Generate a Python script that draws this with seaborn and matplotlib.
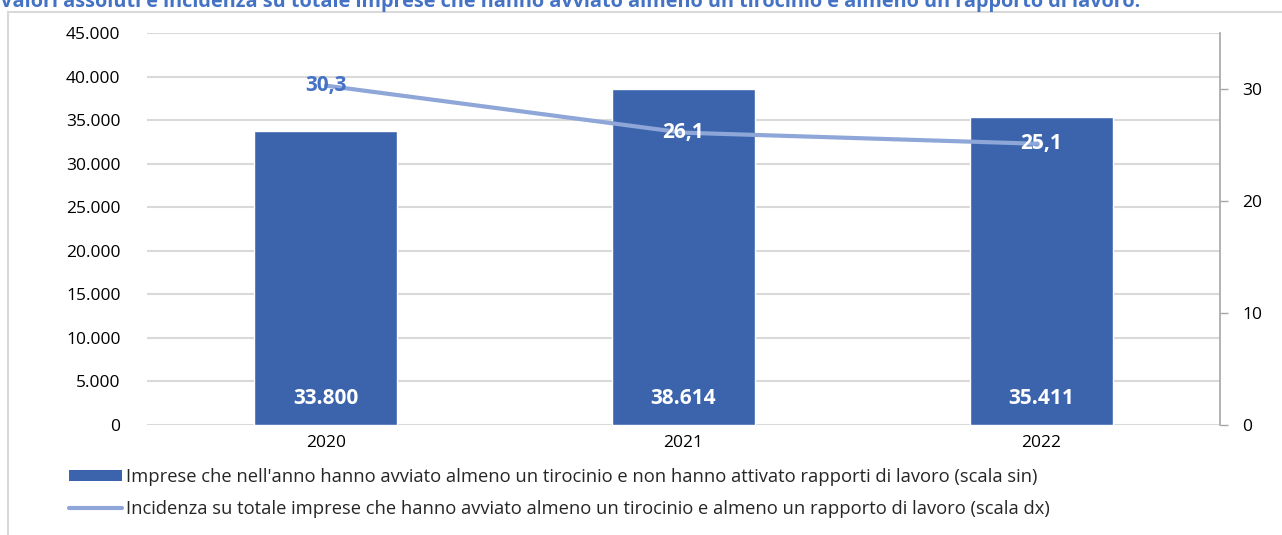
import numpy as np
import pandas as pd
import seaborn as sns
import matplotlib.pyplot as plt
from matplotlib.patches import Patch, Rectangle
from matplotlib.lines import Line2D
from matplotlib.ticker import FuncFormatter

# data
years = ["2020", "2021", "2022"]
imprese = [33800, 38614, 35411]
incidenza = [30.3, 26.1, 25.1]

title = ("Valori assoluti e incidenza su totale imprese che hanno avviato almeno "
         "un tirocinio e almeno un rapporto di lavoro.")
label_bar = ("Imprese che nell'anno hanno avviato almeno un tirocinio e non hanno "
             "attivato rapporti di lavoro (scala sin)")
label_line = ("Incidenza su totale imprese che hanno avviato almeno un tirocinio e "
              "almeno un rapporto di lavoro (scala dx)")

bar_color = "#3B64AD"
line_color = "#8FA6D8"
blue_text = "#4472C4"
grid_color = "#D9D9D9"

df = pd.DataFrame({"anno": years, "imprese": imprese, "incidenza": incidenza})

sns.set_style("white")
plt.rcParams["font.family"] = ["Open Sans", "DejaVu Sans"]

fig = plt.figure(figsize=(12.82, 5.35), dpi=100)
ax = fig.add_axes([147 / 1282, 1 - 425 / 535, (1220 - 147) / 1282, (425 - 33) / 535])

sns.barplot(data=df, x="anno", y="imprese", color=bar_color, width=0.4,
            saturation=1, ax=ax, zorder=2)
ax.set_ylim(0, 45000)
ax.set_yticks(np.arange(0, 45001, 5000))
ax.yaxis.set_major_formatter(FuncFormatter(lambda v, p: f"{int(v):,}".replace(",", ".")))
ax.set_xlim(-0.5, len(years) - 0.5)
ax.grid(axis="y", color=grid_color, linewidth=1.5, zorder=0)
ax.set_axisbelow(True)
for s in ax.spines.values():
    s.set_visible(False)
ax.set_xlabel("")
ax.set_ylabel("")
ax.tick_params(axis="both", length=0, labelsize=12.5, colors="#000000", pad=7)
ax.tick_params(axis="y", pad=19)

# value labels inside the bars, at the bottom
for i, v in enumerate(imprese):
    ax.text(i, 3000, f"{v:,}".replace(",", "."), ha="center", va="center",
            color="white", fontsize=15, fontweight="bold")

ax2 = ax.twinx()
sns.lineplot(x=np.arange(len(years)), y=incidenza, color=line_color, linewidth=3,
             ax=ax2, zorder=3)
ax2.set_ylim(0, 35)
ax2.set_yticks([0, 10, 20, 30])
ax2.set_xlim(-0.5, len(years) - 0.5)
for s in ["top", "left", "bottom"]:
    ax2.spines[s].set_visible(False)
ax2.spines["right"].set_color("#A6A6A6")
ax2.spines["right"].set_linewidth(1.2)
ax2.tick_params(axis="y", length=6, width=1, color="#A6A6A6", labelsize=12.5,
                labelcolor="#000000", pad=10)
ax2.set_ylabel("")

for i, v in enumerate(incidenza):
    ax2.text(i, v, f"{v:.1f}".replace(".", ","), ha="center", va="center",
             color=blue_text if i == 0 else "white", fontsize=15, fontweight="bold",
             zorder=4)

# legend
handles = [Patch(facecolor=bar_color, edgecolor="none"),
           Line2D([0], [0], color=line_color, linewidth=3)]
fig.legend(handles, [label_bar, label_line], loc="upper left",
           bbox_to_anchor=(62 / 1282, 1 - 461 / 535), frameon=False,
           fontsize=13.2, handlelength=2.9, handleheight=0.55, handletextpad=0.2,
           labelspacing=0.72, borderaxespad=0)

# chart frame (clipped by the figure edge)
fig.patches.append(Rectangle((8 / 1282, -0.1), 1.2, 1 - 12 / 535 + 0.1,
                             transform=fig.transFigure, fill=False,
                             edgecolor=grid_color, linewidth=1.5))

# title, partly cut off at the top as in the source
fig.text(0.0, 1 - 7 / 535, title, ha="left", va="baseline", color=blue_text,
         fontsize=14.3, fontweight="bold")

fig.savefig("out.png", dpi=100)
